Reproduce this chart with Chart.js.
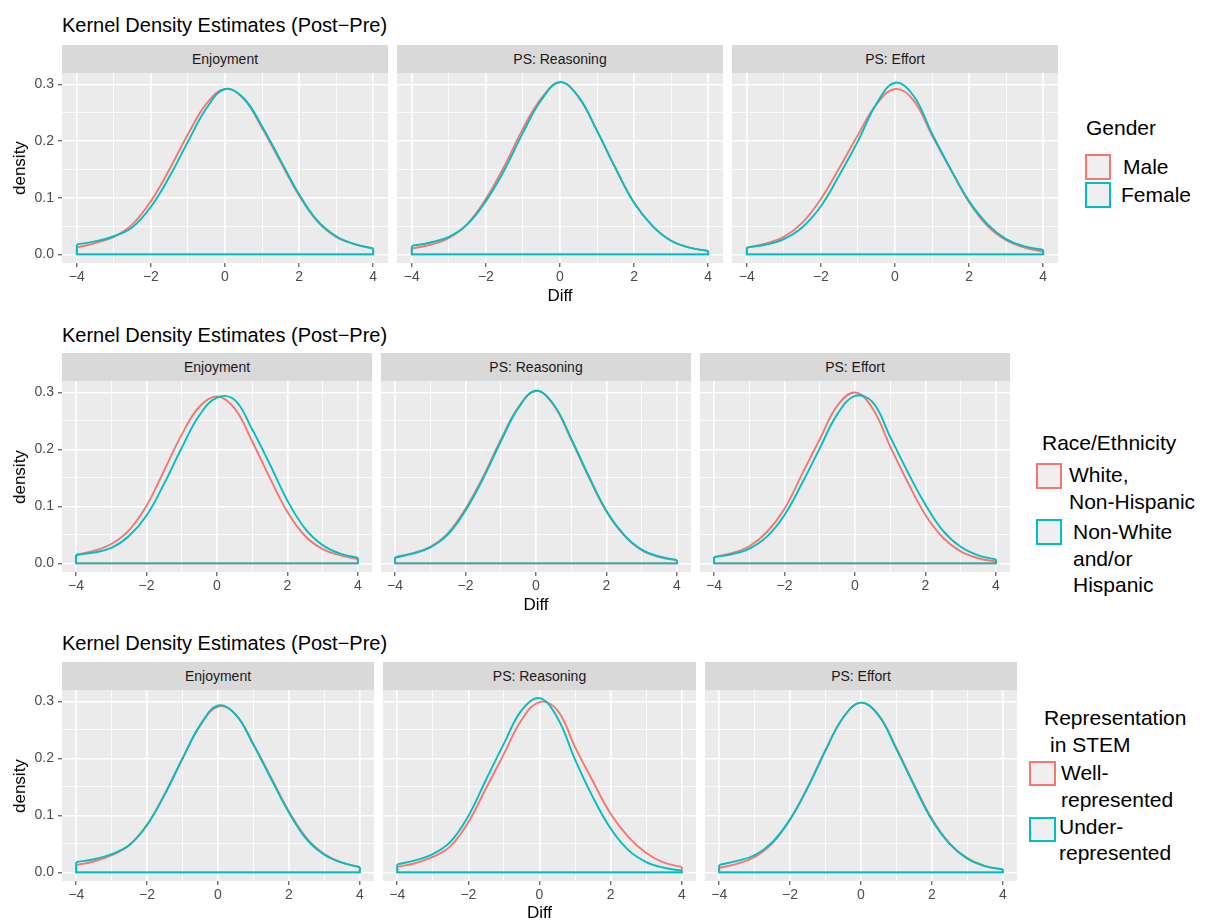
<!DOCTYPE html>
<html>
<head>
<meta charset="utf-8">
<script src="https://cdn.jsdelivr.net/npm/chart.js@4.4.1/dist/chart.umd.min.js"></script>
<style>
  body { margin: 0; background: #fff; font-family: 'Liberation Sans', Arial, sans-serif; }
  #page { position: relative; width: 1206px; height: 923px; overflow: hidden; }
  .txt { position: absolute; white-space: nowrap; color: #000; }
  .title { font-size: 20px; line-height: 24px; }
  .strip { position: absolute; background: #D9D9D9; color: #1A1A1A; font-size: 14px; text-align: center; }
  .axt { font-size: 17px; line-height: 20px; }
  .leg { font-size: 21px; line-height: 26px; }
  .key { position: absolute; background: #EFEFEF; border: 2px solid; box-sizing: border-box; }
  canvas { position: absolute; }
</style>
</head>
<body>
<div id="page"></div>
<script>
(function() {
    'use strict';

    var xs = [-4, -3.5, -3, -2.5, -2, -1.5, -1, -0.5, 0, 0.5, 1, 1.5, 2, 2.5, 3, 3.5, 4];
    var xTicks = [-4, -3, -2, -1, 0, 1, 2, 3, 4];
    var xLabelTicks = [-4, -2, 0, 2, 4];
    var yTicks = [0, 0.05, 0.1, 0.15, 0.2, 0.25, 0.3];
    var yLabelTicks = [0, 0.1, 0.2, 0.3];
    var facets = ['Enjoyment', 'PS: Reasoning', 'PS: Effort'];

    // Gender
    var maleEnjoyment    = [0.012, 0.020, 0.031, 0.053, 0.094, 0.150, 0.212, 0.266, 0.292, 0.275, 0.223, 0.163, 0.104, 0.058, 0.031, 0.018, 0.010];
    var femaleEnjoyment  = [0.0176, 0.023, 0.032, 0.048, 0.084, 0.137, 0.199, 0.258, 0.292, 0.276, 0.226, 0.166, 0.106, 0.059, 0.032, 0.018, 0.0105];
    var maleReasoning    = [0.0105, 0.017, 0.029, 0.054, 0.098, 0.156, 0.222, 0.276, 0.304, 0.278, 0.218, 0.152, 0.091, 0.050, 0.024, 0.012, 0.006];
    var femaleReasoning  = [0.015, 0.021, 0.031, 0.053, 0.094, 0.149, 0.215, 0.273, 0.304, 0.278, 0.218, 0.152, 0.091, 0.050, 0.024, 0.012, 0.006];
    var maleEffort       = [0.012, 0.019, 0.031, 0.056, 0.098, 0.153, 0.211, 0.265, 0.292, 0.272, 0.210, 0.150, 0.092, 0.050, 0.025, 0.012, 0.005];
    var femaleEffort     = [0.012, 0.017, 0.027, 0.048, 0.085, 0.140, 0.200, 0.266, 0.303, 0.280, 0.213, 0.151, 0.094, 0.053, 0.027, 0.014, 0.008];

    // Race/Ethnicity
    var whiteEnjoyment    = [0.015, 0.022, 0.034, 0.058, 0.101, 0.163, 0.226, 0.275, 0.293, 0.272, 0.214, 0.150, 0.090, 0.048, 0.025, 0.014, 0.0076];
    var nonWhiteEnjoyment = [0.015, 0.019, 0.027, 0.048, 0.084, 0.140, 0.203, 0.260, 0.291, 0.287, 0.235, 0.174, 0.110, 0.061, 0.032, 0.017, 0.010];
    var whiteReasoning    = [0.011, 0.018, 0.029, 0.053, 0.096, 0.152, 0.217, 0.274, 0.303, 0.278, 0.217, 0.151, 0.091, 0.049, 0.023, 0.011, 0.005];
    var nonWhiteReasoning = [0.010, 0.017, 0.028, 0.051, 0.093, 0.149, 0.214, 0.273, 0.303, 0.279, 0.219, 0.153, 0.092, 0.050, 0.024, 0.012, 0.006];
    var whiteEffort       = [0.011, 0.018, 0.030, 0.055, 0.096, 0.157, 0.218, 0.277, 0.300, 0.272, 0.205, 0.142, 0.085, 0.045, 0.021, 0.009, 0.003];
    var nonWhiteEffort    = [0.011, 0.016, 0.026, 0.047, 0.085, 0.141, 0.202, 0.262, 0.294, 0.283, 0.222, 0.160, 0.103, 0.057, 0.029, 0.014, 0.007];

    // Representation in STEM
    var wellEnjoyment  = [0.013, 0.019, 0.030, 0.048, 0.084, 0.138, 0.200, 0.258, 0.291, 0.277, 0.225, 0.166, 0.107, 0.060, 0.032, 0.017, 0.009];
    var underEnjoyment = [0.018, 0.023, 0.032, 0.048, 0.083, 0.137, 0.200, 0.259, 0.293, 0.277, 0.224, 0.164, 0.105, 0.058, 0.031, 0.017, 0.009];
    var wellReasoning  = [0.0095, 0.016, 0.027, 0.046, 0.088, 0.148, 0.208, 0.268, 0.299, 0.285, 0.220, 0.160, 0.103, 0.062, 0.034, 0.017, 0.0095];
    var underReasoning = [0.014, 0.021, 0.032, 0.054, 0.099, 0.163, 0.226, 0.285, 0.306, 0.272, 0.198, 0.132, 0.077, 0.039, 0.018, 0.008, 0.003];
    var wellEffort     = [0.008, 0.015, 0.027, 0.051, 0.093, 0.150, 0.215, 0.272, 0.298, 0.276, 0.218, 0.154, 0.094, 0.051, 0.025, 0.011, 0.005];
    var underEffort    = [0.013, 0.020, 0.030, 0.053, 0.093, 0.149, 0.214, 0.272, 0.298, 0.275, 0.216, 0.152, 0.092, 0.050, 0.024, 0.011, 0.005];

    var RED = '#F8766D', CYAN = '#00BFC4';
    var FONT = "'Liberation Sans', Arial, sans-serif";

    var rows = [
        {
            title: 'Kernel Density Estimates (Post\u2212Pre)', titleY: 25,
            stripTop: 45, plotTop: 73, plotH: 190, diffY: 296,
            panels: [[62, 388], [397, 723], [732, 1058]],
            series: [[maleEnjoyment, femaleEnjoyment], [maleReasoning, femaleReasoning], [maleEffort, femaleEffort]],
            legend: {
                lines: [['Gender', 1086, 128]],
                keys: [[1085, 154, 26, 26, RED], [1085, 182, 26, 26, CYAN]],
                labels: [['Male', 1123, 167], ['Female', 1121, 195]]
            }
        },
        {
            title: 'Kernel Density Estimates (Post\u2212Pre)', titleY: 335,
            stripTop: 353, plotTop: 381, plotH: 191, diffY: 605,
            panels: [[62, 372], [381, 691], [700, 1010]],
            series: [[whiteEnjoyment, nonWhiteEnjoyment], [whiteReasoning, nonWhiteReasoning], [whiteEffort, nonWhiteEffort]],
            legend: {
                lines: [['Race/Ethnicity', 1042, 443]],
                keys: [[1036, 463, 26, 26, RED], [1036, 519, 26, 26, CYAN]],
                labels: [['White,', 1069, 475], ['Non-Hispanic', 1069, 502], ['Non-White', 1073, 532], ['and/or', 1073, 559], ['Hispanic', 1073, 585]]
            }
        },
        {
            title: 'Kernel Density Estimates (Post\u2212Pre)', titleY: 643,
            stripTop: 662, plotTop: 690, plotH: 191, diffY: 913,
            panels: [[62, 374], [383, 696], [705, 1017]],
            series: [[wellEnjoyment, underEnjoyment], [wellReasoning, underReasoning], [wellEffort, underEffort]],
            legend: {
                lines: [['Representation', 1044, 718], ['in STEM', 1050, 745]],
                keys: [[1029, 761, 27, 25, RED], [1029, 817, 27, 25, CYAN]],
                labels: [['Well-', 1061, 773], ['represented', 1061, 800], ['Under-', 1059, 827], ['represented', 1059, 853]]
            }
        }
    ];

    var page = document.getElementById('page');

    function text(str, cls, left, cy, lh) {
        var d = document.createElement('div');
        d.className = 'txt ' + cls;
        d.textContent = str;
        d.style.left = left + 'px';
        d.style.top = (cy - lh / 2) + 'px';
        page.appendChild(d);
        return d;
    }

    function isIn(list, v) {
        return list.some(function(m) { return Math.abs(m - v) < 1e-9; });
    }

    function fmtX(v) {
        return v < 0 ? '\u2212' + Math.abs(v) : String(v);
    }

    var panelBg = {
        id: 'panelBg',
        beforeDraw: function(chart) {
            var a = chart.chartArea, c = chart.ctx;
            c.save();
            c.fillStyle = '#EBEBEB';
            c.fillRect(a.left, a.top, a.right - a.left, a.bottom - a.top);
            c.restore();
        }
    };

    function curveSets(ys, color, order) {
        var n = xs.length - 1;
        return [{
            data: xs.map(function(x, i) { return { x: x, y: ys[i] }; }),
            borderColor: color, borderWidth: 1.9, pointRadius: 0,
            tension: 0.4, fill: false, order: order
        }, {
            // the closed outline of geom_density: side edges and baseline
            data: [{ x: xs[0], y: ys[0] }, { x: xs[0], y: 0 }, { x: xs[n], y: 0 }, { x: xs[n], y: ys[n] }],
            borderColor: color, borderWidth: 1.9, pointRadius: 0,
            tension: 0, fill: false, order: order
        }];
    }

    function gridWidth(ctx) {
        if (!ctx.tick) return 0;
        var majors = ctx.scale.axis === 'x' ? xLabelTicks : yLabelTicks;
        return isIn(majors, ctx.tick.value) ? 1.6 : 0.8;
    }

    function makePanel(row, col) {
        var left = row.panels[col][0], right = row.panels[col][1];
        var yW = col === 0 ? 50 : 0;
        var xH = 30;
        var cv = document.createElement('canvas');
        cv.width = right - left + yW;
        cv.height = row.plotH + xH;
        cv.style.left = (left - yW) + 'px';
        cv.style.top = row.plotTop + 'px';
        page.appendChild(cv);

        var pair = row.series[col];
        new Chart(cv.getContext('2d'), {
            type: 'line',
            data: { datasets: curveSets(pair[0], RED, 2).concat(curveSets(pair[1], CYAN, 1)) },
            plugins: [panelBg],
            options: {
                responsive: false,
                animation: false,
                devicePixelRatio: 1,
                layout: { padding: 0 },
                plugins: { legend: { display: false }, tooltip: { enabled: false } },
                scales: {
                    x: {
                        type: 'linear', min: -4.4, max: 4.4,
                        afterBuildTicks: function(s) { s.ticks = xTicks.map(function(v) { return { value: v }; }); },
                        afterFit: function(s) { s.height = xH; s.paddingLeft = 0; s.paddingRight = 0; },
                        border: { display: false },
                        grid: {
                            color: '#FFFFFF', lineWidth: gridWidth,
                            drawTicks: true, tickLength: 4, tickWidth: 1,
                            tickColor: function(ctx) { return ctx.tick && isIn(xLabelTicks, ctx.tick.value) ? '#333333' : 'rgba(0,0,0,0)'; }
                        },
                        ticks: {
                            autoSkip: false, maxRotation: 0, padding: 2, color: '#4D4D4D',
                            font: { family: FONT, size: 14 },
                            callback: function(v) { return isIn(xLabelTicks, v) ? fmtX(v) : ''; }
                        }
                    },
                    y: {
                        type: 'linear', min: -0.0152, max: 0.3202,
                        afterBuildTicks: function(s) { s.ticks = yTicks.map(function(v) { return { value: v }; }); },
                        afterFit: function(s) { s.width = yW; s.paddingTop = 0; s.paddingBottom = 0; },
                        border: { display: false },
                        grid: {
                            color: '#FFFFFF', lineWidth: gridWidth,
                            drawTicks: col === 0, tickLength: 4, tickWidth: 1,
                            tickColor: function(ctx) { return ctx.tick && isIn(yLabelTicks, ctx.tick.value) ? '#333333' : 'rgba(0,0,0,0)'; }
                        },
                        ticks: {
                            display: col === 0, autoSkip: false, padding: 4, color: '#4D4D4D',
                            font: { family: FONT, size: 14 },
                            callback: function(v) { return isIn(yLabelTicks, v) ? v.toFixed(1) : ''; }
                        }
                    }
                }
            }
        });

        var strip = document.createElement('div');
        strip.className = 'strip';
        strip.textContent = facets[col];
        strip.style.left = left + 'px';
        strip.style.top = row.stripTop + 'px';
        strip.style.width = (right - left) + 'px';
        strip.style.height = (row.plotTop - row.stripTop) + 'px';
        strip.style.lineHeight = (row.plotTop - row.stripTop) + 'px';
        page.appendChild(strip);
    }

    rows.forEach(function(row) {
        text(row.title, 'title', 62, row.titleY, 24);
        for (var c = 0; c < 3; c++) makePanel(row, c);

        var dens = text('density', 'axt', 0, 0, 20);
        dens.style.left = '20px';
        dens.style.top = (row.plotTop + row.plotH / 2) + 'px';
        dens.style.transform = 'translate(-50%, -50%) rotate(-90deg)';

        var mid = row.panels[1];
        var diff = text('Diff', 'axt', 0, row.diffY, 20);
        diff.style.left = ((mid[0] + mid[1]) / 2) + 'px';
        diff.style.transform = 'translateX(-50%)';

        row.legend.lines.forEach(function(l) { text(l[0], 'leg', l[1], l[2], 26); });
        row.legend.keys.forEach(function(k) {
            var b = document.createElement('div');
            b.className = 'key';
            b.style.left = k[0] + 'px';
            b.style.top = k[1] + 'px';
            b.style.width = k[2] + 'px';
            b.style.height = k[3] + 'px';
            b.style.borderColor = k[4];
            page.appendChild(b);
        });
        row.legend.labels.forEach(function(l) { text(l[0], 'leg', l[1], l[2], 26); });
    });
})();
</script>
</body>
</html>
